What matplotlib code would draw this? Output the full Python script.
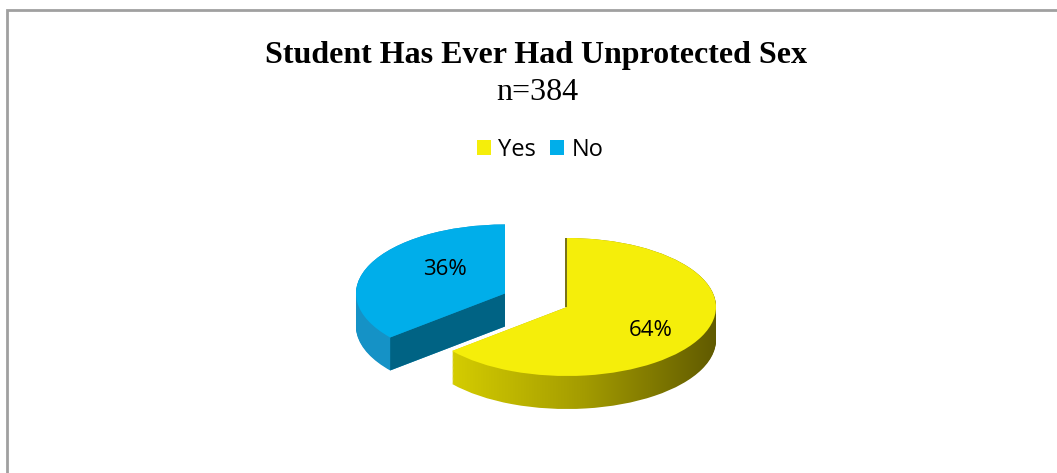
import numpy as np
import matplotlib.pyplot as plt
from matplotlib.patches import Rectangle, Patch
from matplotlib.colors import LinearSegmentedColormap

labels = ['Yes', 'No']
shares = [64, 36]
top_colors = ['#F5EE0A', '#00AEEA']
side_colors = ['#9E9600', '#1592C6']
cut_face_color = '#006384'
explode = [0.0, 0.46]

W, H = 1057, 473
fig = plt.figure(figsize=(W / 100, H / 100), dpi=100)

# gray chart frame, cut off at right and bottom
fig.patches.append(Rectangle((7 / W, -0.1), 1.2, 1 - 10 / H + 0.1, transform=fig.transFigure,
                             fill=False, edgecolor='#A0A0A0', linewidth=2))

fig.text(0.507, 1 - 55 / H, 'Student Has Ever Had Unprotected Sex', ha='center', va='center',
         family='Liberation Serif', weight='bold', fontsize=23)
fig.text(0.508, 1 - 93 / H, 'n=384', ha='center', va='center',
         family='Liberation Serif', fontsize=23)

handles = [Patch(facecolor=c, edgecolor='none') for c in top_colors]
fig.legend(handles, labels, loc='center', bbox_to_anchor=(0.511, 1 - 150 / H), ncol=2,
           frameon=False, prop={'family': 'Open Sans', 'size': 17},
           handlelength=0.6, handleheight=0.6, handletextpad=0.3, columnspacing=0.6)

# pie axes: 1 unit = 149 px horizontally, 69 px vertically
cx, cy = 567, H - 307
ax_w, ax_h = 4 * 149, 4 * 69
ax = fig.add_axes([(cx - ax_w / 2) / W, (cy - ax_h / 2) / H, ax_w / W, ax_h / H])

depth = 33 / 69
startangle = 90
grad = LinearSegmentedColormap.from_list('side', ['#D6CE00', '#A49C00', '#605A00'])
gimg = np.linspace(0, 1, 256).reshape(1, -1)

# side walls: stacked copies of the pie pushed downwards
for d in np.linspace(depth, 0.0, 40):
    wedges, _ = ax.pie(shares, explode=explode, startangle=startangle, counterclock=False,
                       colors=side_colors, center=(0, -d), radius=1)
    wedges[0].set_facecolor('none')
    wedges[0].set_edgecolor('none')
    im = ax.imshow(gimg, cmap=grad, extent=(-0.8, 1.0, -2, 1), aspect='auto', zorder=wedges[0].get_zorder())
    im.set_clip_path(wedges[0])
    wedges[1].set_edgecolor('none')

tops, texts, autotexts = ax.pie(shares, explode=explode, startangle=startangle, counterclock=False,
                                colors=top_colors, autopct='%d%%', pctdistance=0.62,
                                textprops={'family': 'Open Sans', 'size': 16, 'color': 'black'})

# dark cut face of the exploded "No" slice
w = tops[1]
ox, oy = w.center
ang = np.deg2rad(w.theta2)
ex, ey = ox + w.r * np.cos(ang), oy + w.r * np.sin(ang)
ax.fill([ox, ex, ex, ox], [oy, ey, ey - depth, oy - depth], color=cut_face_color, zorder=1.5,
        linewidth=0)

# thin edge of the "Yes" cut face at 12 o'clock
y0 = tops[0]
ax.plot([y0.center[0] - 0.008] * 2, [y0.center[1], y0.center[1] + y0.r], color='#6B6500',
        linewidth=1.3, zorder=2.5, solid_capstyle='butt')

for t in tops:
    t.set_zorder(2)
    t.set_edgecolor('none')
for t in autotexts:
    t.set_zorder(3)
px, py = autotexts[1].get_position()
autotexts[1].set_position((px + 0.16, py + 0.08))
px, py = autotexts[0].get_position()
autotexts[0].set_position((px, py - 0.07))

ax.set_aspect('auto')
ax.set_xlim(-2, 2)
ax.set_ylim(-2, 2)
ax.axis('off')

fig.savefig('out.png', dpi=100)
